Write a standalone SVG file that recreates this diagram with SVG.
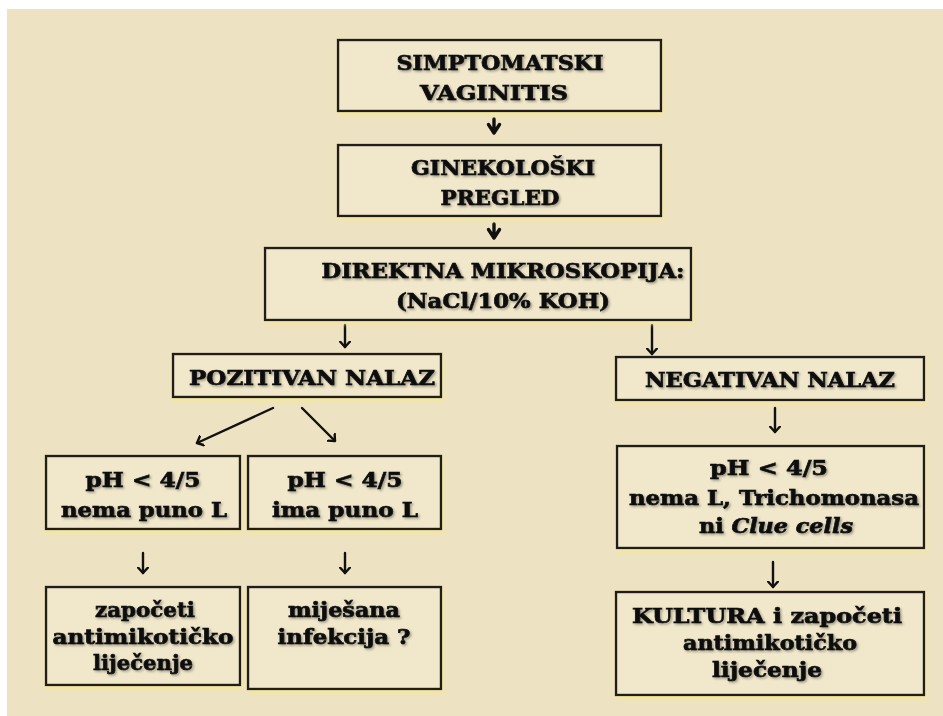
<svg xmlns="http://www.w3.org/2000/svg" width="943" height="716" viewBox="0 0 943 716">
<style>
.box{fill:#F1E8CB;stroke:#221e1a;stroke-width:2.4;filter:url(#glow)}
.t{font-family:"DejaVu Serif","Liberation Serif",serif;font-weight:bold;font-size:21px;fill:#111;stroke:#111;stroke-width:0.7;text-anchor:middle;filter:url(#tsh)}
.it{font-style:italic}
.c{fill:none;stroke:#111;stroke-width:2.4;stroke-linecap:round;stroke-linejoin:round}
.ch{fill:none;stroke:#111;stroke-width:3.4;stroke-linecap:round;stroke-linejoin:round}
</style>
<defs>
<filter id="tsh" x="-10%" y="-30%" width="120%" height="160%">
<feDropShadow dx="1.5" dy="1.5" stdDeviation="1" flood-color="#000" flood-opacity="0.35"/>
</filter>
<filter id="glow" x="-5%" y="-10%" width="110%" height="130%">
<feDropShadow dx="1" dy="3" stdDeviation="2" flood-color="#f3e79a" flood-opacity="0.9"/>
</filter>
<marker id="ah" markerWidth="12" markerHeight="12" refX="6" refY="6" orient="auto" markerUnits="userSpaceOnUse">
<path d="M0.5,1 L6,6 L0.5,11" fill="none" stroke="#111" stroke-width="2.4" stroke-linecap="round" stroke-linejoin="round"/>
</marker>
</defs>
<rect x="0" y="0" width="943" height="716" fill="#ffffff"/>
<rect x="7" y="9" width="936" height="707" fill="#EDE3C2"/>

<g id="connectors">
<path class="ch" d="M494,119 L494,133 M488.5,124.5 L494,133 L499.5,124.5"/>
<path class="ch" d="M494,224 L494,238 M488.5,229.5 L494,238 L499.5,229.5"/>
<path class="c" d="M345,325 L345,347" marker-end="url(#ah)"/>
<path class="c" d="M652,325 L652,354" marker-end="url(#ah)"/>
<path class="c" d="M273,408 L197,443" marker-end="url(#ah)"/>
<path class="c" d="M302,408 L335,441" marker-end="url(#ah)"/>
<path class="c" d="M775,408 L775,432" marker-end="url(#ah)"/>
<path class="c" d="M143,553 L143,573" marker-end="url(#ah)"/>
<path class="c" d="M345,553 L345,573" marker-end="url(#ah)"/>
<path class="c" d="M773,562 L773,587" marker-end="url(#ah)"/>
</g>

<g id="n1">
<rect class="box" x="338" y="40" width="323" height="71"/>
<text class="t" x="500" y="70" textLength="207" lengthAdjust="spacingAndGlyphs">SIMPTOMATSKI</text>
<text class="t" x="494" y="100" textLength="148" lengthAdjust="spacingAndGlyphs">VAGINITIS</text>
</g>
<g id="n2">
<rect class="box" x="338" y="145" width="323" height="71"/>
<text class="t" x="503" y="175" textLength="184" lengthAdjust="spacingAndGlyphs">GINEKOLOŠKI</text>
<text class="t" x="500" y="205" textLength="119" lengthAdjust="spacingAndGlyphs">PREGLED</text>
</g>
<g id="n3">
<rect class="box" x="265" y="248" width="426" height="72"/>
<text class="t" x="503" y="278" textLength="363" lengthAdjust="spacingAndGlyphs">DIREKTNA MIKROSKOPIJA:</text>
<text class="t" x="503" y="308" textLength="214" lengthAdjust="spacingAndGlyphs">(NaCl/10% KOH)</text>
</g>
<g id="n4">
<rect class="box" x="173" y="354" width="268" height="43"/>
<text class="t" x="312" y="385" textLength="246" lengthAdjust="spacingAndGlyphs">POZITIVAN NALAZ</text>
</g>
<g id="n5">
<rect class="box" x="616" y="357" width="308" height="43"/>
<text class="t" x="770" y="387" textLength="250" lengthAdjust="spacingAndGlyphs">NEGATIVAN NALAZ</text>
</g>
<g id="n6">
<rect class="box" x="46" y="456" width="194" height="73"/>
<text class="t" x="143" y="487" textLength="115" lengthAdjust="spacingAndGlyphs">pH &lt; 4/5</text>
<text class="t" x="144" y="517" textLength="166" lengthAdjust="spacingAndGlyphs">nema puno L</text>
</g>
<g id="n7">
<rect class="box" x="248" y="456" width="193" height="73"/>
<text class="t" x="345" y="487" textLength="115" lengthAdjust="spacingAndGlyphs">pH &lt; 4/5</text>
<text class="t" x="345" y="517" textLength="146" lengthAdjust="spacingAndGlyphs">ima puno L</text>
</g>
<g id="n8">
<rect class="box" x="46" y="587" width="194" height="98"/>
<text class="t" x="145" y="617" textLength="100" lengthAdjust="spacingAndGlyphs">započeti</text>
<text class="t" x="143" y="644" textLength="181" lengthAdjust="spacingAndGlyphs">antimikotičko</text>
<text class="t" x="143" y="670" textLength="100" lengthAdjust="spacingAndGlyphs">liječenje</text>
</g>
<g id="n9">
<rect class="box" x="248" y="587" width="193" height="102"/>
<text class="t" x="344" y="617" textLength="112" lengthAdjust="spacingAndGlyphs">miješana</text>
<text class="t" x="344" y="644" textLength="133" lengthAdjust="spacingAndGlyphs">infekcija ?</text>
</g>
<g id="n10">
<rect class="box" x="617" y="446" width="307" height="102"/>
<text class="t" x="769" y="475" textLength="118" lengthAdjust="spacingAndGlyphs">pH &lt; 4/5</text>
<text class="t" x="774" y="505" textLength="290" lengthAdjust="spacingAndGlyphs">nema L, Trichomonasa</text>
<text class="t" x="776" y="533" textLength="154" lengthAdjust="spacingAndGlyphs">ni <tspan class="it">Clue cells</tspan></text>
</g>
<g id="n11">
<rect class="box" x="616" y="592" width="308" height="103"/>
<text class="t" x="767" y="623" textLength="270" lengthAdjust="spacingAndGlyphs">KULTURA i započeti</text>
<text class="t" x="770" y="650" textLength="174" lengthAdjust="spacingAndGlyphs">antimikotičko</text>
<text class="t" x="767" y="677" textLength="110" lengthAdjust="spacingAndGlyphs">liječenje</text>
</g>
</svg>
